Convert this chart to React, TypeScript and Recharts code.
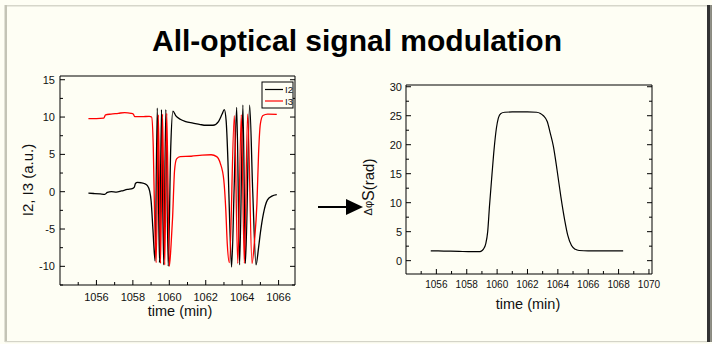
import { LineChart, Line, XAxis, YAxis } from 'recharts';

const FONT = '"Liberation Sans", Arial, Helvetica, sans-serif';
const BG = '#fefef4';

// left panel: interferometer outputs I2 (black) and I3 (red)
const i2Time = [
  1055.56, 1055.9, 1056.2, 1056.46, 1056.6, 1056.82, 1057.1, 1057.37, 1057.7, 1058.0,
  1058.08, 1058.14, 1058.25, 1058.45, 1058.61, 1058.8, 1058.92, 1059.0, 1059.1, 1059.22,
  1059.34, 1059.46, 1059.57, 1059.69, 1059.81, 1059.94, 1060.08, 1060.2, 1060.35, 1060.6,
  1060.9, 1061.3, 1061.7, 1062.0, 1062.4, 1062.7, 1062.9, 1063.02, 1063.12, 1063.22,
  1063.32, 1063.42, 1063.56, 1063.7, 1063.86, 1064.04, 1064.18, 1064.41, 1064.58, 1064.76,
  1064.9, 1065.0, 1065.17, 1065.39, 1065.63, 1065.9,
];
const i2Values = [
  -0.2, -0.25, -0.3, -0.35, -0.1, 0, -0.05, 0.1, 0.3, 0.45,
  0.6, 1.1, 1.25, 1.2, 1.1, 0.8, 0.1, -1.2, -5, -9.3,
  11.2, -9.5, 11.0, -9.8, 11.0, -10.0, 6, 10.8, 10.2, 9.7,
  9.4, 9.2, 9.0, 8.9, 8.9, 9.4, 10.4, 11.0, 9.5, 4.0,
  -4.5, -10.1, 0.5, 11.3, -9.8, 11.6, -9.6, 11.6, 0, -9.8,
  -7.5, -5.5, -2.9, -1.1, -0.6, -0.4,
];

const i3Time = [
  1055.56, 1056.0, 1056.4, 1056.5, 1056.8, 1057.2, 1057.55, 1057.9, 1058.02, 1058.1,
  1058.5, 1058.9, 1059.03, 1059.12, 1059.2, 1059.28, 1059.4, 1059.52, 1059.63, 1059.75,
  1059.86, 1060.0, 1060.1, 1060.18, 1060.29, 1060.4, 1060.6, 1061.2, 1061.8, 1062.3,
  1062.6, 1062.8, 1062.99, 1063.1, 1063.18, 1063.3, 1063.57, 1063.76, 1063.95, 1064.12,
  1064.3, 1064.54, 1064.68, 1064.81, 1064.9, 1065.0, 1065.14, 1065.4, 1065.9,
];
const i3Values = [
  9.8, 9.8, 9.85, 10.3, 10.4, 10.5, 10.6, 10.5, 10.4, 10.05,
  10.05, 10.1, 10.0, 6, -4, -9.5, 10.3, -9.6, 10.4, -9.8,
  10.5, -10, -7, -3.5, 2.9, 4.4, 4.7, 4.75, 4.9, 4.95,
  4.7, 3.8, 1.6, -2.4, -6.9, -9.5, 10.2, -9.6, 10.3, -9.6,
  10.4, -9.6, -6.5, -1.6, 5.1, 9.1, 10.2, 10.4, 10.35,
];

// right panel: phase shift
const phiTime = [
  1055.63, 1056.5, 1057.5, 1058.1, 1058.8, 1058.96, 1059.1, 1059.25, 1059.38, 1059.5,
  1059.66, 1059.8, 1059.95, 1060.08, 1060.25, 1060.5, 1061.0, 1062.0, 1062.6, 1062.85,
  1063.05, 1063.3, 1063.5, 1063.7, 1063.95, 1064.2, 1064.45, 1064.65, 1064.9, 1065.15,
  1065.4, 1066.0, 1067.0, 1068.3,
];
const phiValues = [
  1.7, 1.65, 1.6, 1.55, 1.55, 1.65, 2.0, 2.9, 5.0, 9.5,
  14.8, 19.2, 22.8, 24.6, 25.4, 25.6, 25.65, 25.65, 25.6, 25.4,
  25.0, 24.0, 22.0, 19.8, 15.6, 11.0, 7.0, 4.4, 2.6, 1.95,
  1.75, 1.7, 1.7, 1.7,
];

const leftXMajor = [1056, 1058, 1060, 1062, 1064, 1066];
const leftXTicks = [1055, 1056, 1057, 1058, 1059, 1060, 1061, 1062, 1063, 1064, 1065, 1066];
const leftYMajor = [-10, -5, 0, 5, 10, 15];
const leftYTicks = [-12.5, -10, -7.5, -5, -2.5, 0, 2.5, 5, 7.5, 10, 12.5, 15];

const rightXMajor = [1056, 1058, 1060, 1062, 1064, 1066, 1068, 1070];
const rightXTicks = [
  1055, 1056, 1057, 1058, 1059, 1060, 1061, 1062, 1063, 1064, 1065, 1066, 1067, 1068,
  1069, 1070,
];
const rightYMajor = [0, 5, 10, 15, 20, 25, 30];
const rightYTicks = [0, 2.5, 5, 7.5, 10, 12.5, 15, 17.5, 20, 22.5, 25, 27.5, 30];

const i2Data = i2Time.map((t, i) => ({ t, v: i2Values[i] }));
const i3Data = i3Time.map((t, i) => ({ t, v: i3Values[i] }));
const phiData = phiTime.map((t, i) => ({ t, v: phiValues[i] }));

function bottomTick(majors: number[], fontSize: number, dy: number) {
  return (props: any) => {
    const { x, y, payload } = props;
    const major = majors.includes(payload.value);
    return (
      <g>
        <line x1={x} y1={y} x2={x} y2={y - (major ? 5 : 3)} stroke="#000" />
        {major && (
          <text x={x} y={y + dy} textAnchor="middle" fontSize={fontSize} fontFamily={FONT} fill="#111">
            {payload.value}
          </text>
        )}
      </g>
    );
  };
}

function leftTick(majors: number[], fontSize: number, gap: number) {
  return (props: any) => {
    const { x, y, payload } = props;
    const major = majors.includes(payload.value);
    return (
      <g>
        <line x1={x} y1={y} x2={x + (major ? 5 : 3)} y2={y} stroke="#000" />
        {major && (
          <text x={x - gap} y={y + fontSize * 0.36} textAnchor="end" fontSize={fontSize} fontFamily={FONT} fill="#111">
            {payload.value}
          </text>
        )}
      </g>
    );
  };
}

function rightTick(majors: number[]) {
  return (props: any) => {
    const { x, y, payload } = props;
    const major = majors.includes(payload.value);
    return <line x1={x} y1={y} x2={x - (major ? 5 : 3)} y2={y} stroke="#000" />;
  };
}

function Overlay() {
  return (
    <svg width={712} height={344} style={{ position: 'absolute', left: 0, top: 0, pointerEvents: 'none' }}>
      {/* panel bevel */}
      <rect x={5} y={5} width={702} height={1.5} fill="#d6d6ca" />
      <rect x={4.5} y={5} width={2.5} height={337} fill="#c4c4b6" />
      <rect x={5} y={341} width={702} height={1.2} fill="#d4d4c8" />
      <rect x={707} y={5} width={3.5} height={337} fill="#333" />
      <rect x={710.5} y={5} width={1.5} height={337} fill="#8a8a80" />

      <text x={357} y={51} textAnchor="middle" fontSize={30} fontWeight="bold" fontFamily={FONT} fill="#000">
        All-optical signal modulation
      </text>

      {/* left axis titles */}
      <text transform="translate(33,180) rotate(-90)" textAnchor="middle" fontSize={15} fontFamily={FONT} fill="#111">
        I2, I3 (a.u.)
      </text>
      <text x={180} y={316} textAnchor="middle" fontSize={14.5} fontFamily={FONT} fill="#111">
        time (min)
      </text>

      {/* legend */}
      <rect x={262} y={82} width={31} height={26} fill={BG} stroke="#000" strokeWidth={1} />
      <line x1={265} y1={89.5} x2={283} y2={89.5} stroke="#000" strokeWidth={1.2} />
      <text x={285} y={93} fontSize={9.5} fontFamily={FONT} fill="#111">I2</text>
      <line x1={265} y1={101} x2={283} y2={101} stroke="#ff0000" strokeWidth={1.2} />
      <text x={285} y={104.5} fontSize={9.5} fontFamily={FONT} fill="#111">I3</text>

      {/* arrow */}
      <line x1={318} y1={207} x2={349} y2={207} stroke="#000" strokeWidth={2} />
      <polygon points="346,199 346,215 363,207" fill="#000" />

      {/* right axis titles */}
      <text transform="translate(374,187) rotate(-90)" textAnchor="middle" fontFamily={FONT} fill="#111">
        <tspan fontSize={11} dy={-2}>Δφ</tspan>
        <tspan fontSize={16} dy={2}>S</tspan>
        <tspan fontSize={15}>(rad)</tspan>
      </text>
      <text x={528} y={309} textAnchor="middle" fontSize={14.5} fontFamily={FONT} fill="#111">
        time (min)
      </text>
    </svg>
  );
}

export default function App() {
  return (
    <div style={{ position: 'absolute', left: 0, top: 0, width: 712, height: 344, background: BG, overflow: 'hidden' }}>
      <div style={{ position: 'absolute', left: 0, top: 0 }}>
        <LineChart width={340} height={344} margin={{ top: 66, right: 35, bottom: 19, left: 20 }}>
          <XAxis
            dataKey="t"
            type="number"
            domain={[1054, 1066.9]}
            ticks={leftXTicks}
            interval={0}
            allowDataOverflow
            height={40}
            tickSize={0}
            tickMargin={0}
            tickLine={false}
            axisLine={{ stroke: '#000' }}
            tick={bottomTick(leftXMajor, 11, 16)}
          />
          <XAxis
            xAxisId="top"
            orientation="top"
            type="number"
            domain={[1054, 1066.9]}
            allowDataOverflow
            height={10}
            tick={false}
            tickLine={false}
            axisLine={{ stroke: '#000' }}
          />
          <YAxis
            type="number"
            domain={[-12.5, 15.5]}
            ticks={leftYTicks}
            interval={0}
            allowDataOverflow
            width={40}
            tickSize={0}
            tickMargin={0}
            tickLine={false}
            axisLine={{ stroke: '#000' }}
            tick={leftTick(leftYMajor, 11, 5)}
          />
          <YAxis
            yAxisId="r"
            orientation="right"
            type="number"
            domain={[-12.5, 15.5]}
            ticks={leftYTicks}
            interval={0}
            allowDataOverflow
            width={10}
            tickSize={0}
            tickMargin={0}
            tickLine={false}
            axisLine={{ stroke: '#000' }}
            tick={rightTick(leftYMajor)}
          />
          <Line data={i2Data} dataKey="v" type="monotone" stroke="#000" strokeWidth={1.3} dot={false} isAnimationActive={false} />
          <Line data={i3Data} dataKey="v" type="monotone" stroke="#ff0000" strokeWidth={1.3} dot={false} isAnimationActive={false} />
        </LineChart>
      </div>
      <div style={{ position: 'absolute', left: 340, top: 0 }}>
        <LineChart width={372} height={344} margin={{ top: 75, right: 50, bottom: 30, left: 26 }}>
          <XAxis
            dataKey="t"
            type="number"
            domain={[1054, 1070.2]}
            ticks={rightXTicks}
            interval={0}
            allowDataOverflow
            height={40}
            tickSize={0}
            tickMargin={0}
            tickLine={false}
            axisLine={{ stroke: '#000' }}
            tick={bottomTick(rightXMajor, 10, 14)}
          />
          <XAxis
            xAxisId="top"
            orientation="top"
            type="number"
            domain={[1054, 1070.2]}
            allowDataOverflow
            height={10}
            tick={false}
            tickLine={false}
            axisLine={{ stroke: '#000' }}
          />
          <YAxis
            type="number"
            domain={[-2.3, 30.3]}
            ticks={rightYTicks}
            interval={0}
            allowDataOverflow
            width={40}
            tickSize={0}
            tickMargin={0}
            tickLine={false}
            axisLine={{ stroke: '#000' }}
            tick={leftTick(rightYMajor, 11, 4)}
          />
          <YAxis
            yAxisId="r"
            orientation="right"
            type="number"
            domain={[-2.3, 30.3]}
            ticks={rightYTicks}
            interval={0}
            allowDataOverflow
            width={10}
            tickSize={0}
            tickMargin={0}
            tickLine={false}
            axisLine={{ stroke: '#000' }}
            tick={rightTick(rightYMajor)}
          />
          <Line data={phiData} dataKey="v" type="monotone" stroke="#000" strokeWidth={1.2} dot={false} isAnimationActive={false} />
        </LineChart>
      </div>
      <Overlay />
    </div>
  );
}
